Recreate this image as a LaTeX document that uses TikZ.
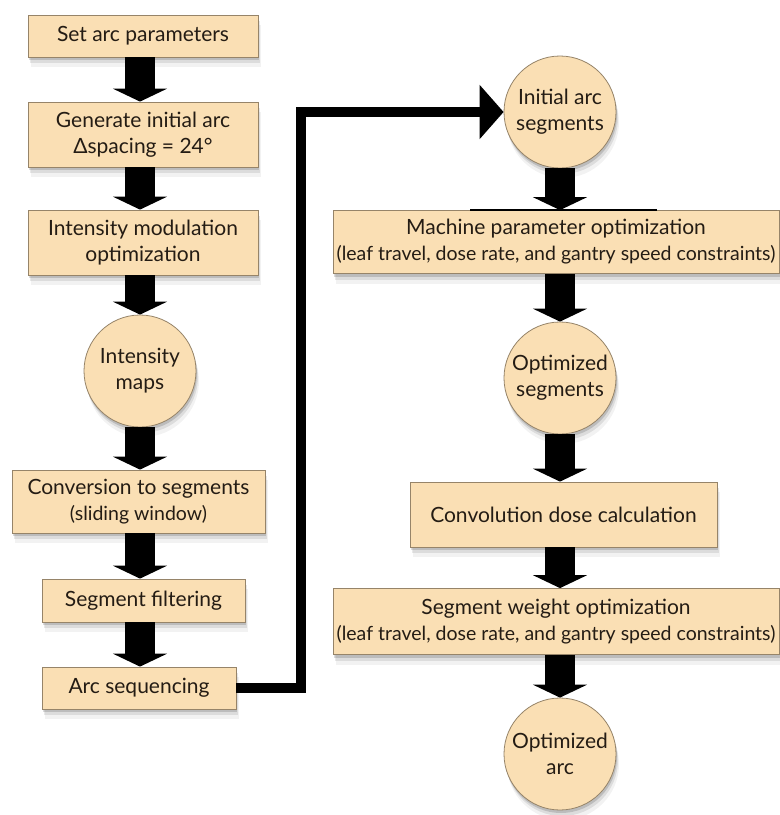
\documentclass[tikz,border=0pt]{standalone}
\usepackage{fontspec}
\setmainfont{Lato}
\usetikzlibrary{arrows.meta,shadows,calc}
\definecolor{boxfill}{RGB}{250,223,180}
\definecolor{boxline}{RGB}{150,132,105}
\definecolor{txt}{RGB}{36,28,20}
\newcommand{\paren}{\fontsize{19.5}{25}\selectfont}
\tikzset{
  softshadow/.style={
    drop shadow={shadow xshift=1pt,shadow yshift=-3pt,opacity=.14,fill=black},
    drop shadow={shadow xshift=2pt,shadow yshift=-6pt,opacity=.09,fill=black},
    drop shadow={shadow xshift=3pt,shadow yshift=-10pt,opacity=.05,fill=black}},
  box/.style={rectangle, draw=boxline, fill=boxfill, line width=0.8pt, inner sep=0pt,
    align=center, text=txt, font=\fontsize{21}{26}\selectfont, softshadow},
  circ/.style={circle, draw=boxline, fill=boxfill, line width=0.8pt, inner sep=0pt,
    minimum size=112pt, align=center, text=txt, font=\fontsize{21}{26}\selectfont, softshadow},
  flow/.style={line width=30pt, draw=black, -{Triangle[length=13pt,width=54pt]}},
  conn/.style={line width=10pt, draw=black, line join=miter, -{Triangle[length=24pt,width=53pt]}},
}
\begin{document}
\begin{tikzpicture}[x=1pt,y=-1pt]
\useasboundingbox[fill=white] (0,0) rectangle (780,815);
\coordinate (lx) at (140,0);
\coordinate (rx) at (560,0);
\coordinate (rail) at (301,0);
% left column
\node[box, minimum width=230pt, minimum height=42pt] (A) at (143,36) {Set arc parameters};
\node[box, minimum width=230pt, minimum height=65pt] (B) at (143,134.5) {Generate initial arc\\Δspacing = 24°};
\node[box, minimum width=230pt, minimum height=65pt] (C) at (143,242.5) {Intensity modulation\\optimization};
\node[circ] (D) at (140,371) {Intensity\\maps};
\node[box, minimum width=253pt, minimum height=63pt] (E) at (138.5,501.5) {Conversion to segments\\{\paren(sliding window)}};
\node[box, minimum width=203pt, minimum height=43pt] (F) at (143.5,600.5) {Segment filtering};
\node[box, minimum width=194pt, minimum height=42pt] (G) at (139,688) {Arc sequencing};
% right column
\node[circ] (H) at (560,112) {Initial arc\\segments};
\node[box, minimum width=446pt, minimum height=63pt] (I) at (556,242) {Machine parameter optimization\\{\paren(leaf travel, dose rate, and gantry speed constraints)}};
\node[circ] (J) at (560,378) {Optimized\\segments};
\node[box, minimum width=307pt, minimum height=65pt] (K) at (563.5,514.5) {Convolution dose calculation};
\node[box, minimum width=446pt, minimum height=66pt] (L) at (556,621.5) {Segment weight optimization\\{\paren(leaf travel, dose rate, and gantry speed constraints)}};
\node[circ] (M) at (560,754) {Optimized\\arc};
\draw[line width=2pt] ($(I.north)+(-86,0)$) -- ($(I.north)+(101,0)$);
% flow arrows
\draw[flow] (A.south -| lx) -- (B.north -| lx);
\draw[flow] (B.south -| lx) -- (C.north -| lx);
\draw[flow] (C.south -| lx) -- (D.north);
\draw[flow] (D.south) -- (E.north -| lx);
\draw[flow] (E.south -| lx) -- (F.north -| lx);
\draw[flow] (F.south -| lx) -- (G.north -| lx);
\draw[flow] (H.south) -- (I.north -| rx);
\draw[flow] (I.south -| rx) -- (J.north);
\draw[flow] (J.south) -- (K.north -| rx);
\draw[flow] (K.south -| rx) -- (L.north -| rx);
\draw[flow] (L.south -| rx) -- (M.north);
% connector
\draw[conn] (G.east) -- (G.east -| rail) |- (H.west);
\end{tikzpicture}
\end{document}
